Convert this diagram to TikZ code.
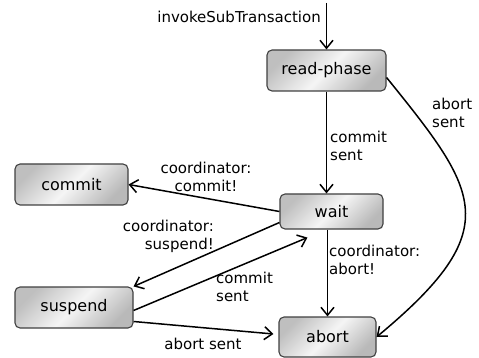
\documentclass[tikz,border=0pt]{standalone}
\usepackage{fontspec}
\setmainfont{DejaVu Sans}
\usetikzlibrary{arrows.meta,calc}
\begin{document}
\begin{tikzpicture}[x=1pt,y=-1pt,
  state/.style={draw=black!75, line width=1.1pt, rounded corners=5pt,
    top color=gray!50, bottom color=gray!55, middle color=gray!8,
    shading angle=45, font=\fontsize{16}{19}\selectfont,
    inner sep=0pt, minimum height=41pt},
  trans/.style={line width=1.5pt, -{Straight Barb[length=8pt,width=13pt]}},
  lbl/.style={font=\fontsize{15}{18}\selectfont, inner sep=0pt}]
\useasboundingbox (0,0) rectangle (479,358);

% states
\node[state, minimum width=119pt] (rp) at (326.5,70.5) {read-phase};
\node[state, minimum width=103pt, minimum height=35pt] (wait) at (331.5,211.5) {wait};
\node[state, minimum width=97pt, minimum height=40pt] (abort) at (327.5,337) {abort};
\node[state, minimum width=113pt] (commit) at (71.5,184.5) {commit};
\node[state, minimum width=118pt] (suspend) at (74,307.5) {suspend};

% entry
\coordinate (entry) at (326.5,3);
\draw[trans] (entry) -- (rp.north);
\node[lbl, anchor=east] (invl) at (321,17) {invokeSubTransaction};

% read-phase -> wait
\draw[trans] (rp.south) -- (rp.south |- wait.north);
\node[lbl, anchor=west, align=left] (rpwl) at (330,146) {commit\\sent};

% read-phase -> abort
\draw[trans] ($(rp.east)+(0,7)$) .. controls +(93,115) and +(130,-108) .. (abort.east);
\node[lbl, anchor=west, align=left] (rpal) at (432,113) {abort\\sent};

% wait -> commit
\draw[trans] (wait.west) -- (commit.east);
\node[lbl, align=center] (wcl) at (206,177) {coordinator:\\commit!};

% wait -> suspend
\draw[trans] ($(wait.west)+(0,11)$) -- (suspend.north east);
\node[lbl, anchor=east, align=right] (wsl) at (214,236) {coordinator:\\suspend!};

% suspend -> wait
\draw[trans] ($(suspend.east)+(0,3)$) -- ($(wait.south west)+(28,8)$);
\node[lbl, anchor=west, align=left] (swl) at (216,287) {commit\\sent};

% suspend -> abort
\draw[trans] ($(suspend.east)+(0,14)$) -- ($(abort.west)+(-5,-3)$);
\node[lbl] (sal) at (203,344) {abort sent};

% wait -> abort
\draw[trans] (abort.north |- wait.south) -- (abort.north);
\node[lbl, anchor=west, align=left] (wal) at (329,260) {coordinator:\\abort!};
\end{tikzpicture}
\end{document}
